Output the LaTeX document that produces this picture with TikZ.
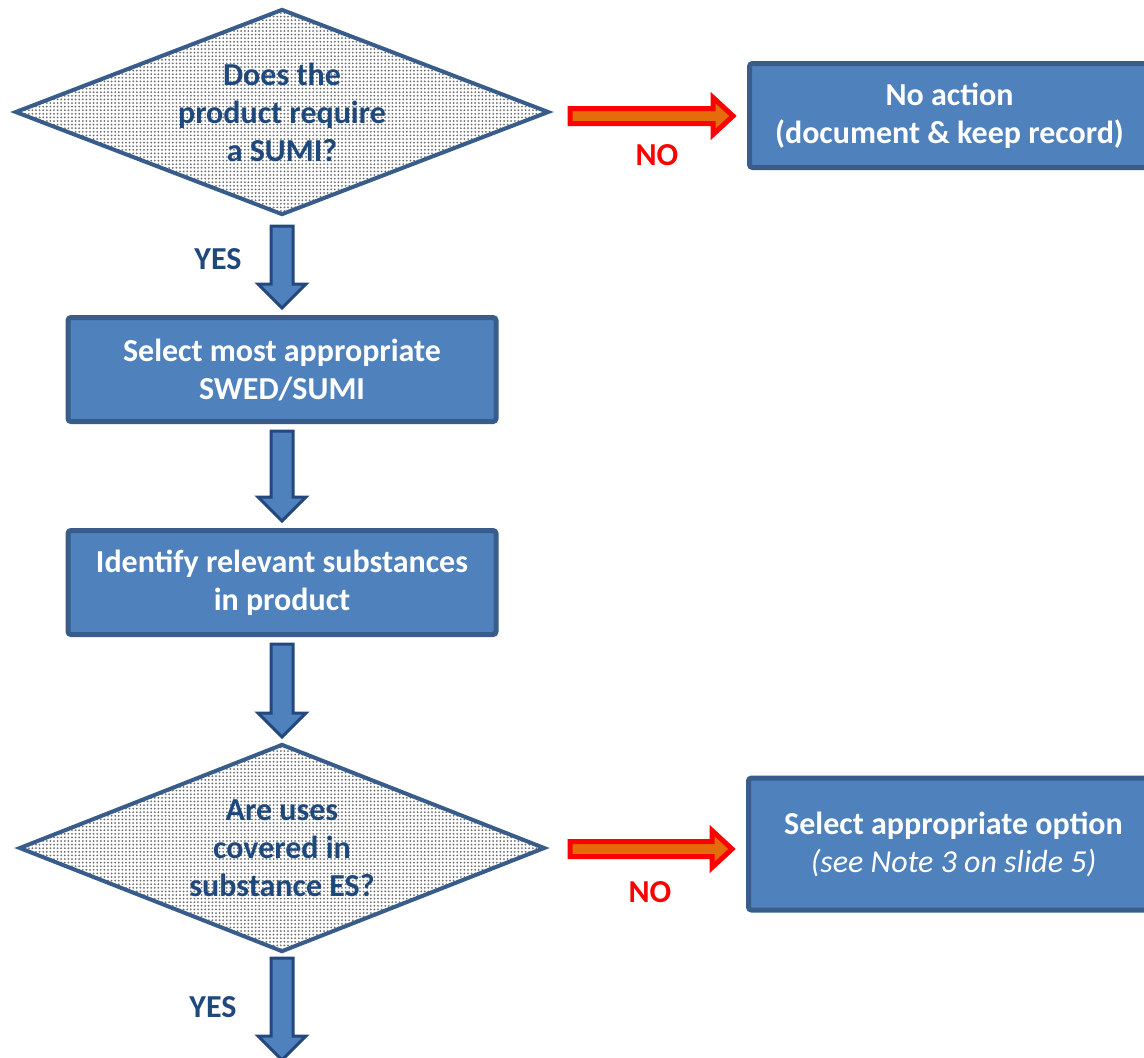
\documentclass[tikz,border=0pt]{standalone}
\usepackage{fontspec}
\setmainfont{Carlito}
\usetikzlibrary{positioning, calc, shapes.geometric, patterns.meta}

\definecolor{boxfill}{HTML}{4F81BD}
\definecolor{boxline}{HTML}{385D8A}
\definecolor{arrowline}{HTML}{24487E}
\definecolor{qtext}{HTML}{1F497D}
\definecolor{noarrow}{HTML}{E46C0A}

\begin{document}
\begin{tikzpicture}[
    x=0.5pt, y=-0.5pt,
    every node/.style={font=\fontsize{16}{19}\selectfont\bfseries},
    decision/.style={diamond, draw=boxline, line width=2pt, pattern={Dots[distance=1.8pt, radius=0.5pt]}, pattern color=gray!85!black, aspect=2.6, inner sep=0pt, align=center, text=qtext},
    stepbox/.style={rectangle, draw=boxline, line width=2.5pt, fill=boxfill, rounded corners=1.5pt, text=white, align=center, inner sep=0pt},
    yes/.style={text=qtext},
    no/.style={text=red},
    downarrow/.style={draw=arrowline, fill=boxfill, line width=1.5pt,
        to path={let \p1=(\tikztostart), \p2=(\tikztotarget) in
            (\x1-5.5pt,\y1) -- (\x1+5.5pt,\y1) -- (\x1+5.5pt,\y2+12pt) -- (\x1+12pt,\y2+12pt)
            -- (\x1,\y2) -- (\x1-12pt,\y2+12pt) -- (\x1-5.5pt,\y2+12pt) -- cycle}},
    rightarrow/.style={draw=red, fill=noarrow, line width=2.5pt,
        to path={let \p1=(\tikztostart), \p2=(\tikztotarget) in
            (\x1,\y1-3.75pt) -- (\x2-10pt,\y1-3.75pt) -- (\x2-10pt,\y1-9.25pt) -- (\x2,\y1)
            -- (\x2-10pt,\y1+9.25pt) -- (\x2-10pt,\y1+3.75pt) -- (\x1,\y1+3.75pt) -- cycle}}
]
\useasboundingbox (0,0) rectangle (1144,1057);

% Main flow (left)
\node[decision, minimum width=267pt, minimum height=103pt] (q1) at (282,112) {Does the\\product require\\a SUMI?};
\node[stepbox, minimum width=214pt, minimum height=52pt, below=49pt of q1] (b2) {Select most appropriate\\SWED/SUMI};
\node[stepbox, minimum width=214pt, minimum height=52pt, below=52pt of b2] (b3) {Identify relevant substances\\in product};
\node[decision, minimum width=263pt, minimum height=104pt, below=52.5pt of b3] (q2) {Are uses\\covered in\\substance ES?};
\coordinate[below=53pt of q2] (qend);

% Outcomes (right)
\node[stepbox, minimum width=200pt, minimum height=52pt, right=98pt of q1, yshift=-1.75pt] (b1) {No action\\(document \& keep record)};
\node[stepbox, minimum width=205pt, minimum height=66pt, right=99.5pt of q2, yshift=2pt] (b4) {Select appropriate option\\{\mdseries\itshape (see Note 3 on slide 5)}};

% Arrows
\draw[downarrow] ([yshift=-4.5pt]q1.south) to ([yshift=3.5pt]b2.north);
\draw[downarrow] ([yshift=-3.5pt]b2.south) to ([yshift=3.5pt]b3.north);
\draw[downarrow] ([yshift=-3.5pt]b3.south) to ([yshift=2.5pt]q2.north);
\draw[downarrow] ([yshift=-2pt]q2.south) to (qend);
\draw[rightarrow] ([xshift=9.5pt, yshift=-2pt]q1.east) to ([xshift=-7pt]b1.west);
\draw[rightarrow] ([xshift=11.5pt, yshift=-0.5pt]q2.east) to ([xshift=-7pt]b4.west);

% Labels
\node[yes] (yes1) at ([shift={(-64,42)}]q1.south) {YES};
\node[yes] (yes2) at ([shift={(-69,53)}]q2.south) {YES};
\node[no] (no1) at ([shift={(106,43)}]q1.east) {NO};
\node[no] (no2) at ([shift={(103,44)}]q2.east) {NO};

\end{tikzpicture}
\end{document}
